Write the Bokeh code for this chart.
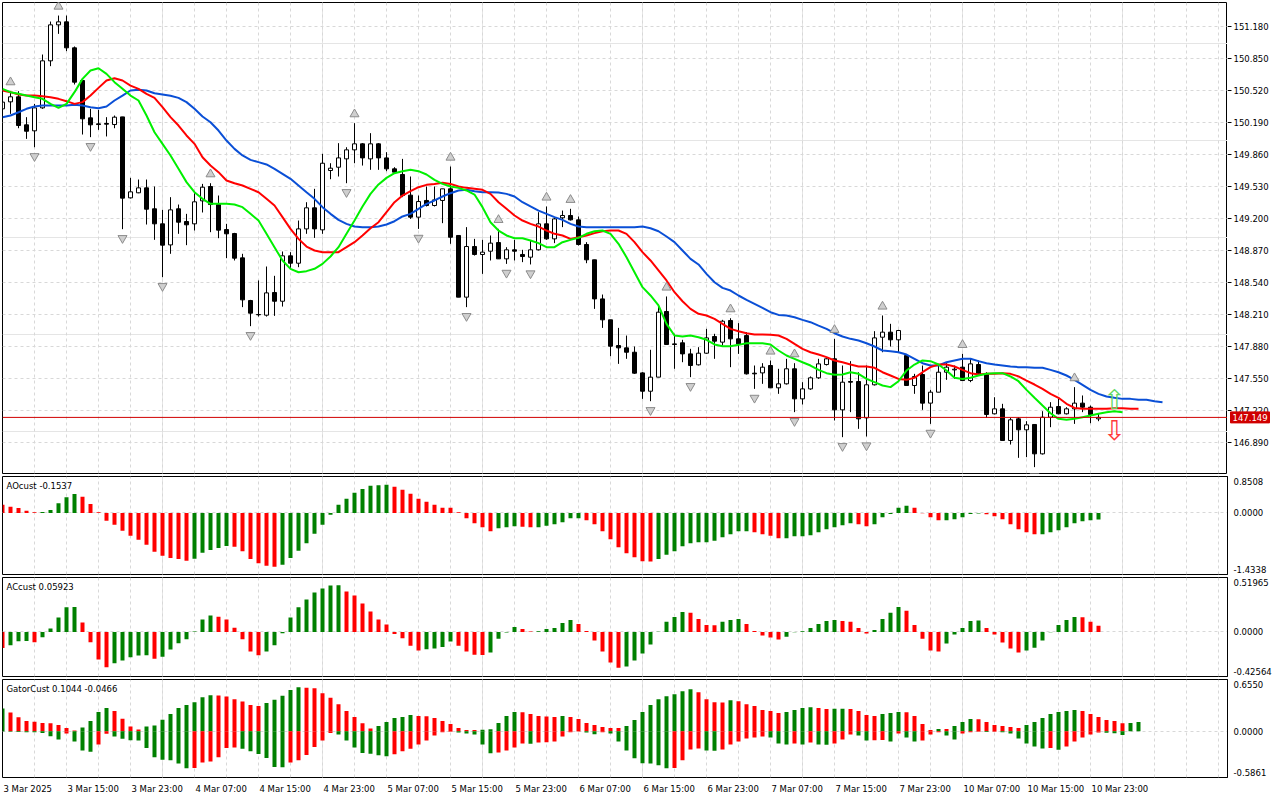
from bokeh.plotting import figure
from bokeh.layouts import column, row
from bokeh.models import (Range1d, FixedTicker, CustomJSTickFormatter,
                          Grid, Span, Label, ColumnDataSource)
from bokeh.embed import file_html
from bokeh.resources import INLINE
from bokeh.core.properties import value

# ---------------- data (H1 bars, index 0 = 3 Mar 2025 07:00) ----------------
opens = [150.331, 150.403, 150.455, 150.166, 150.104, 150.341, 150.826, 151.197, 151.228, 150.960,
         150.623, 150.238, 150.176, 150.180, 150.169, 150.248, 149.413, 149.465, 149.516, 149.300,
         149.145, 148.928, 149.300, 149.169, 149.145, 149.382, 149.530, 149.344, 149.086, 149.045,
         148.794, 148.354, 148.210, 148.203, 148.437, 148.347, 148.815, 148.739, 149.093, 149.310,
         149.083, 149.695, 149.729, 149.815, 149.908, 149.970, 149.815, 149.970, 149.825, 149.712,
         149.654, 149.441, 149.214, 149.386, 149.334, 149.386, 149.506, 149.025, 148.389, 148.911,
         148.829, 148.863, 148.952, 148.784, 148.877, 148.829, 148.801, 148.877, 149.145, 148.990,
         149.207, 149.231, 149.186, 148.932, 148.774, 148.371, 148.155, 147.890, 147.866, 147.821,
         147.608, 147.419, 147.564, 148.241, 147.907, 147.918, 147.804, 147.691, 147.811, 147.983,
         147.925, 148.148, 147.959, 147.993, 147.605, 147.608, 147.684, 147.454, 147.495, 147.650,
         147.340, 147.443, 147.557, 147.694, 147.753, 147.227, 147.519, 147.519, 147.144, 147.485,
         147.976, 148.028, 147.949, 147.787, 147.478, 147.591, 147.296, 147.409, 147.615, 147.639,
         147.667, 147.529, 147.694, 147.598, 147.186, 147.237, 146.911, 147.134, 147.021, 147.076,
         146.773, 147.151, 147.261, 147.186, 147.237, 147.296, 147.254, 147.134]
highs = [150.434, 150.513, 150.513, 150.245, 150.382, 150.891, 151.231, 151.293, 151.293, 150.974,
         150.630, 150.331, 150.321, 150.245, 150.262, 150.248, 149.619, 149.602, 149.602, 149.530,
         149.289, 149.420, 149.344, 149.248, 149.461, 149.557, 149.564, 149.437, 149.145, 149.052,
         148.836, 148.361, 148.561, 148.705, 148.609, 148.860, 148.853, 149.179, 149.368, 149.506,
         149.867, 149.770, 149.977, 149.935, 150.183, 149.977, 150.080, 149.977, 149.884, 149.729,
         149.815, 149.633, 149.437, 149.530, 149.530, 149.506, 149.736, 149.025, 149.111, 148.990,
         148.980, 149.025, 149.093, 148.904, 148.980, 148.877, 148.973, 149.265, 149.324, 149.214,
         149.282, 149.300, 149.221, 148.956, 148.774, 148.416, 148.155, 148.072, 147.993, 147.880,
         147.615, 147.846, 148.313, 148.396, 148.011, 147.949, 147.856, 147.873, 148.062, 148.011,
         148.155, 148.172, 148.121, 148.028, 147.684, 147.708, 147.736, 147.650, 147.753, 147.708,
         147.512, 147.571, 147.753, 147.763, 147.959, 147.684, 147.729, 147.615, 147.684, 148.038,
         148.200, 148.114, 148.052, 147.797, 147.598, 147.684, 147.433, 147.684, 147.718, 147.684,
         147.804, 147.753, 147.736, 147.615, 147.357, 147.289, 147.144, 147.151, 147.110, 147.076,
         147.213, 147.306, 147.340, 147.254, 147.461, 147.375, 147.271, 147.186]
lows = [150.296, 150.279, 150.131, 150.021, 149.935, 150.331, 150.771, 151.104, 150.926, 150.582,
        150.066, 150.039, 150.114, 150.046, 150.131, 149.090, 149.406, 149.461, 149.138, 148.980,
        148.595, 148.836, 149.042, 148.925, 149.076, 149.262, 149.059, 148.997, 148.791, 148.767,
        148.286, 148.090, 148.189, 148.189, 148.196, 148.292, 148.691, 148.698, 149.042, 149.000,
        149.042, 149.605, 149.633, 149.564, 149.770, 149.746, 149.702, 149.702, 149.688, 149.661,
        149.420, 149.196, 149.093, 149.324, 149.324, 149.152, 148.939, 148.389, 148.286, 148.818,
        148.629, 148.767, 148.784, 148.732, 148.767, 148.750, 148.726, 148.870, 148.980, 148.946,
        149.111, 149.179, 148.921, 148.739, 148.268, 148.072, 147.780, 147.701, 147.753, 147.598,
        147.340, 147.316, 147.564, 147.901, 147.650, 147.718, 147.564, 147.684, 147.804, 147.753,
        147.890, 147.667, 147.804, 147.591, 147.443, 147.495, 147.454, 147.392, 147.488, 147.203,
        147.282, 147.433, 147.546, 147.684, 147.117, 146.945, 147.203, 147.031, 146.952, 147.478,
        147.821, 147.880, 147.821, 147.478, 147.392, 147.227, 147.082, 147.409, 147.536, 147.546,
        147.529, 147.512, 147.581, 147.144, 147.179, 146.911, 146.869, 146.732, 146.739, 146.636,
        146.766, 147.048, 147.179, 147.179, 147.082, 147.203, 147.089, 147.110]
closes = [150.400, 150.455, 150.159, 150.100, 150.341, 150.826, 151.197, 151.228, 150.960, 150.606,
          150.228, 150.166, 150.169, 150.173, 150.245, 149.410, 149.475, 149.516, 149.296, 149.145,
          148.925, 149.289, 149.162, 149.135, 149.372, 149.523, 149.344, 149.080, 149.042, 148.791,
          148.361, 148.224, 148.207, 148.433, 148.347, 148.815, 148.739, 149.093, 149.310, 149.093,
          149.770, 149.719, 149.825, 149.908, 149.970, 149.825, 149.970, 149.825, 149.712, 149.678,
          149.437, 149.214, 149.375, 149.334, 149.392, 149.506, 149.007, 148.389, 148.911, 148.829,
          148.853, 148.946, 148.784, 148.877, 148.863, 148.808, 148.877, 149.145, 148.990, 149.196,
          149.231, 149.186, 148.932, 148.774, 148.371, 148.155, 147.883, 147.866, 147.821, 147.605,
          147.419, 147.564, 148.234, 147.901, 147.901, 147.804, 147.684, 147.811, 147.969, 147.935,
          148.141, 147.959, 147.907, 147.598, 147.598, 147.667, 147.454, 147.495, 147.650, 147.340,
          147.443, 147.557, 147.701, 147.753, 147.227, 147.512, 147.512, 147.134, 147.485, 147.969,
          148.028, 147.949, 148.045, 147.478, 147.571, 147.296, 147.409, 147.615, 147.667, 147.646,
          147.529, 147.701, 147.598, 147.179, 147.237, 146.911, 147.124, 147.021, 147.072, 146.773,
          147.151, 147.254, 147.186, 147.237, 147.296, 147.254, 147.179, 147.149]

# Alligator lines (already shifted forward: lips +3, teeth +5, jaw +8)
lips = [150.537, 150.503, 150.486, 150.468, 150.451, 150.434, 150.382, 150.341, 150.382, 150.503,
        150.640, 150.726, 150.750, 150.692, 150.606, 150.537, 150.468, 150.417, 150.262, 150.090,
        149.970, 149.850, 149.712, 149.575, 149.471, 149.403, 149.351, 149.351, 149.351, 149.344,
        149.317, 149.248, 149.179, 149.042, 148.904, 148.767, 148.681, 148.646, 148.657, 148.681,
        148.732, 148.808, 148.904, 149.042, 149.179, 149.324, 149.454, 149.551, 149.619, 149.667,
        149.688, 149.702, 149.688, 149.654, 149.599, 149.557, 149.530, 149.516, 149.489, 149.447,
        149.317, 149.162, 149.076, 149.025, 148.997, 148.997, 148.973, 148.946, 148.904, 148.904,
        148.956, 148.980, 149.000, 149.042, 149.069, 149.076, 149.042, 148.939, 148.801, 148.646,
        148.492, 148.406, 148.303, 148.114, 147.993, 147.983, 147.993, 147.976, 147.949, 147.901,
        147.883, 147.883, 147.897, 147.914, 147.914, 147.914, 147.901, 147.839, 147.787, 147.753,
        147.718, 147.684, 147.639, 147.605, 147.588, 147.591, 147.615, 147.598, 147.546, 147.512,
        147.478, 147.461, 147.522, 147.632, 147.694, 147.736, 147.729, 147.694, 147.632, 147.557,
        147.546, 147.557, 147.581, 147.598, 147.605, 147.605, 147.571, 147.522, 147.433, 147.351,
        147.271, 147.192, 147.134, 147.124, 147.134, 147.151, 147.168, 147.186, 147.203, 147.213,
        147.203]
teeth = [150.520, 150.503, 150.479, 150.468, 150.468, 150.461, 150.451, 150.434, 150.410, 150.382,
         150.400, 150.468, 150.547, 150.623, 150.647, 150.623, 150.571, 150.537, 150.486, 150.444,
         150.348, 150.245, 150.159, 150.056, 149.970, 149.832, 149.746, 149.678, 149.592, 149.564,
         149.540, 149.506, 149.471, 149.403, 149.334, 149.214, 149.093, 148.990, 148.911, 148.870,
         148.853, 148.853, 148.853, 148.904, 148.956, 149.025, 149.100, 149.162, 149.265, 149.368,
         149.437, 149.482, 149.523, 149.547, 149.557, 149.568, 149.557, 149.530, 149.516, 149.506,
         149.496, 149.454, 149.368, 149.300, 149.231, 149.179, 149.145, 149.117, 149.076, 149.042,
         149.025, 148.990, 149.007, 149.025, 149.049, 149.069, 149.076, 149.076, 149.042, 148.956,
         148.853, 148.767, 148.664, 148.561, 148.440, 148.347, 148.268, 148.217, 148.200, 148.165,
         148.114, 148.062, 148.038, 148.017, 148.004, 148.004, 148.000, 147.993, 147.959, 147.907,
         147.856, 147.821, 147.797, 147.770, 147.736, 147.718, 147.694, 147.674, 147.674, 147.660,
         147.615, 147.581, 147.546, 147.536, 147.557, 147.615, 147.667, 147.694, 147.694, 147.674,
         147.639, 147.605, 147.591, 147.598, 147.598, 147.605, 147.598, 147.571, 147.529, 147.488,
         147.443, 147.392, 147.351, 147.289, 147.247, 147.237, 147.237, 147.237, 147.237, 147.244,
         147.244, 147.237, 147.237]
jaw = [150.245, 150.262, 150.296, 150.331, 150.355, 150.365, 150.365, 150.365, 150.365, 150.372,
       150.365, 150.348, 150.338, 150.355, 150.417, 150.468, 150.520, 150.527, 150.520, 150.492,
       150.479, 150.465, 150.444, 150.400, 150.331, 150.252, 150.193, 150.107, 150.004, 149.918,
       149.850, 149.805, 149.781, 149.757, 149.712, 149.661, 149.609, 149.540, 149.471, 149.403,
       149.317, 149.248, 149.186, 149.145, 149.117, 149.111, 149.111, 149.117, 149.138, 149.172,
       149.221, 149.248, 149.300, 149.351, 149.386, 149.427, 149.461, 149.489, 149.496, 149.482,
       149.471, 149.471, 149.468, 149.454, 149.427, 149.368, 149.324, 149.282, 149.248, 149.214,
       149.186, 149.145, 149.117, 149.111, 149.111, 149.111, 149.111, 149.111, 149.111, 149.111,
       149.117, 149.100, 149.069, 149.014, 148.956, 148.870, 148.784, 148.726, 148.629, 148.543,
       148.485, 148.457, 148.406, 148.361, 148.320, 148.279, 148.234, 148.206, 148.200, 148.182,
       148.155, 148.131, 148.096, 148.062, 148.017, 147.983, 147.959, 147.942, 147.914, 147.880,
       147.839, 147.832, 147.821, 147.797, 147.753, 147.708, 147.684, 147.684, 147.718, 147.736,
       147.753, 147.753, 147.729, 147.708, 147.694, 147.684, 147.674, 147.667, 147.667, 147.660,
       147.660, 147.639, 147.615, 147.581, 147.536, 147.485, 147.433, 147.392, 147.364, 147.351,
       147.340, 147.340, 147.330, 147.330, 147.316, 147.306]

fractal_up_bars = [1, 7, 26, 44, 56, 62, 68, 71, 83, 91, 96, 99, 104, 110, 120, 134]
fractal_down_bars = [4, 11, 15, 20, 31, 43, 52, 58, 63, 66, 81, 86, 94, 99, 105, 108, 116, 129]

signal_bar = 139
signal_up_price = 147.330
signal_down_price = 147.018

ao = [0.194, 0.148, 0.117, 0.054, 0.016, 0.023, 0.070, 0.225, 0.365, 0.443,
      0.381, 0.210, 0.016, -0.179, -0.272, -0.412, -0.528, -0.622, -0.738, -0.901,
      -0.995, -1.049, -1.072, -1.111, -1.065, -0.925, -0.863, -0.816, -0.769, -0.785,
      -0.894, -1.072, -1.173, -1.228, -1.251, -1.204, -1.049, -0.878, -0.707, -0.482,
      -0.272, -0.039, 0.194, 0.334, 0.474, 0.559, 0.637, 0.645, 0.661, 0.614,
      0.544, 0.451, 0.334, 0.264, 0.194, 0.124, 0.120, 0.016, -0.124, -0.241,
      -0.334, -0.427, -0.357, -0.334, -0.311, -0.319, -0.334, -0.330, -0.295, -0.264,
      -0.218, -0.124, -0.120, -0.171, -0.264, -0.427, -0.614, -0.800, -0.940, -1.034,
      -1.127, -1.130, -1.072, -0.971, -0.894, -0.777, -0.707, -0.684, -0.680, -0.645,
      -0.567, -0.497, -0.427, -0.424, -0.451, -0.497, -0.528, -0.591, -0.587, -0.544,
      -0.540, -0.521, -0.451, -0.381, -0.334, -0.288, -0.241, -0.264, -0.311, -0.264,
      -0.101, -0.023, 0.124, 0.171, 0.124, -0.004, -0.101, -0.171, -0.167, -0.148,
      -0.101, -0.023, -0.010, -0.031, -0.078, -0.148, -0.264, -0.381, -0.451, -0.497,
      -0.493, -0.451, -0.404, -0.334, -0.241, -0.195, -0.170, -0.1537]
ac = [-0.153, -0.127, -0.089, -0.086, -0.099, -0.051, 0.032, 0.137, 0.236, 0.239,
      0.089, -0.099, -0.264, -0.338, -0.299, -0.274, -0.242, -0.226, -0.223, -0.255,
      -0.236, -0.169, -0.108, -0.070, 0.003, 0.118, 0.156, 0.146, 0.118, 0.041,
      -0.070, -0.188, -0.223, -0.188, -0.127, -0.013, 0.137, 0.236, 0.309, 0.376,
      0.414, 0.443, 0.446, 0.385, 0.347, 0.271, 0.194, 0.118, 0.070, -0.019,
      -0.061, -0.131, -0.178, -0.166, -0.159, -0.143, -0.092, -0.131, -0.188, -0.217,
      -0.220, -0.197, -0.064, -0.006, 0.048, 0.029, 0.003, 0.006, 0.029, 0.038,
      0.086, 0.115, 0.076, 0.010, -0.083, -0.188, -0.293, -0.341, -0.331, -0.274,
      -0.207, -0.121, 0.002, 0.096, 0.143, 0.191, 0.182, 0.124, 0.067, 0.064,
      0.096, 0.115, 0.124, 0.076, 0.010, -0.035, -0.054, -0.073, -0.045, -0.003,
      0.006, 0.038, 0.076, 0.105, 0.115, 0.105, 0.096, 0.038, -0.016, 0.019,
      0.124, 0.182, 0.239, 0.201, 0.067, -0.064, -0.178, -0.188, -0.111, -0.025,
      0.038, 0.105, 0.108, 0.038, -0.025, -0.102, -0.159, -0.197, -0.178, -0.150,
      -0.083, -0.002, 0.067, 0.115, 0.143, 0.140, 0.096, 0.05923]
gator_up = [0.289, 0.238, 0.176, 0.130, 0.121, 0.105, 0.100, 0.079, 0.042, 0.008,
            0.046, 0.130, 0.243, 0.293, 0.255, 0.159, 0.059, 0.021, 0.059, 0.071,
            0.146, 0.218, 0.293, 0.331, 0.368, 0.431, 0.456, 0.452, 0.439, 0.406,
            0.377, 0.331, 0.318, 0.356, 0.397, 0.448, 0.523, 0.556, 0.552, 0.544,
            0.481, 0.423, 0.343, 0.255, 0.180, 0.100, 0.033, 0.067, 0.117, 0.167,
            0.180, 0.205, 0.192, 0.190, 0.167, 0.130, 0.092, 0.042, 0.017, 0.015,
            0.020, 0.025, 0.105, 0.192, 0.243, 0.240, 0.218, 0.192, 0.188, 0.180,
            0.192, 0.180, 0.155, 0.105, 0.079, 0.054, 0.042, 0.040, 0.067, 0.142,
            0.243, 0.331, 0.406, 0.444, 0.469, 0.506, 0.531, 0.494, 0.406, 0.368,
            0.365, 0.393, 0.381, 0.343, 0.318, 0.268, 0.255, 0.230, 0.243, 0.268,
            0.293, 0.305, 0.293, 0.280, 0.283, 0.286, 0.280, 0.255, 0.205, 0.192,
            0.218, 0.230, 0.243, 0.240, 0.192, 0.092, 0.017, 0.029, 0.027, 0.067,
            0.117, 0.155, 0.152, 0.117, 0.079, 0.067, 0.054, 0.042, 0.079, 0.117,
            0.167, 0.218, 0.243, 0.255, 0.268, 0.255, 0.218, 0.180, 0.142, 0.130,
            0.100, 0.1044, 0.117]
gator_down = [-0.004, -0.008, -0.010, -0.012, -0.013, -0.021, -0.063, -0.105, -0.028, -0.130,
              -0.243, -0.259, -0.167, -0.033, -0.067, -0.096, -0.113, -0.117, -0.213, -0.331,
              -0.360, -0.368, -0.410, -0.469, -0.465, -0.397, -0.385, -0.331, -0.213, -0.205,
              -0.222, -0.255, -0.289, -0.339, -0.452, -0.456, -0.397, -0.368, -0.301, -0.201,
              -0.117, -0.021, -0.042, -0.117, -0.205, -0.276, -0.285, -0.305, -0.318, -0.293,
              -0.255, -0.222, -0.167, -0.117, -0.054, -0.013, -0.008, -0.017, -0.029, -0.042,
              -0.167, -0.280, -0.268, -0.243, -0.205, -0.155, -0.158, -0.142, -0.140, -0.130,
              -0.067, -0.013, -0.004, -0.017, -0.038, -0.013, -0.029, -0.130, -0.243, -0.343,
              -0.406, -0.410, -0.431, -0.469, -0.465, -0.368, -0.230, -0.218, -0.243, -0.246,
              -0.230, -0.167, -0.130, -0.092, -0.079, -0.067, -0.079, -0.155, -0.167, -0.155,
              -0.167, -0.142, -0.167, -0.170, -0.155, -0.105, -0.042, -0.054, -0.117, -0.115,
              -0.110, -0.130, -0.029, -0.080, -0.130, -0.117, -0.042, -0.013, -0.054, -0.105,
              -0.029, -0.013, -0.008, -0.010, -0.008, -0.013, -0.029, -0.092, -0.155, -0.192,
              -0.218, -0.214, -0.234, -0.192, -0.130, -0.079, -0.042, -0.017, -0.020, -0.025,
              -0.0466]

price_ticks = [146.890, 147.220, 147.550, 147.880, 148.210, 148.540, 148.870,
               149.200, 149.530, 149.860, 150.190, 150.520, 150.850, 151.180]
price_range = (146.5704, 151.4275)
ao_range = (-1.4338, 0.8508)
ac_range = (-0.42564, 0.51965)
gator_range = (-0.5861, 0.6550)
ao_labels = ["0.8508", "0.0000", "-1.4338"]
ac_labels = ["0.51965", "0.0000", "-0.42564"]
gator_labels = ["0.6550", "0.0000", "-0.5861"]
ao_title = "AOcust -0.1537"
ac_title = "ACcust 0.05923"
gator_title = "GatorCust 0.1044 -0.0466"

time_label_bars = [0, 8, 16, 24, 32, 40, 48, 56, 64, 72, 80, 88, 96, 104, 112, 120, 128, 136]
time_labels = ["3 Mar 2025", "3 Mar 15:00", "3 Mar 23:00", "4 Mar 07:00", "4 Mar 15:00",
               "4 Mar 23:00", "5 Mar 07:00", "5 Mar 15:00", "5 Mar 23:00", "6 Mar 07:00",
               "6 Mar 15:00", "6 Mar 23:00", "7 Mar 07:00", "7 Mar 15:00", "7 Mar 23:00",
               "10 Mar 07:00", "10 Mar 15:00", "10 Mar 23:00"]

# ---------------- styling ----------------
FONT = "DejaVu Sans"
FS = "8.5px"
GRID_C = "#D8D8D8"
GREEN = "#008000"
RED = "#FF0000"
PRICE_RED = "#D00000"
FRAME_W = 1225
AXIS_W = 53
X_END = FRAME_W / 8.0       # 8 px per bar
xr = Range1d(0, X_END)
vgrid_ticks = list(range(0, int(X_END) + 1, 4))


def base_fig(frame_h, top_b, bot_b, yr, right_axis=True, border_right=AXIS_W):
    p = figure(frame_width=FRAME_W, frame_height=frame_h, x_range=xr,
               y_range=yr, output_backend="svg",
               toolbar_location=None, x_axis_location=None,
               y_axis_location="right" if right_axis else None,
               min_border_left=2, min_border_right=border_right, min_border_top=top_b,
               min_border_bottom=bot_b, background_fill_color="white",
               border_fill_color="white")
    p.outline_line_color = "black"
    p.outline_line_width = 1
    p.add_layout(Grid(dimension=0, ticker=FixedTicker(ticks=vgrid_ticks),
                      grid_line_color=GRID_C, grid_line_dash="3 3"))
    return p


def px_value(yr, frame_h):
    return (yr[1] - yr[0]) / frame_h


# ---------------- main price panel ----------------
MAIN_H = 471
main_yr = Range1d(price_range[0], price_range[1])
main = base_fig(MAIN_H, 2, 1, main_yr, right_axis=False, border_right=0)
main.add_layout(Grid(dimension=1, ticker=FixedTicker(ticks=price_ticks),
                     grid_line_color=GRID_C, grid_line_dash="3 3"))

n = len(closes)
idx = list(range(n))
csrc = ColumnDataSource(dict(
    x=idx, high=highs, low=lows,
    top=[max(o, c) for o, c in zip(opens, closes)],
    bottom=[min(o, c) for o, c in zip(opens, closes)],
    fill=["white" if c >= o else "black" for o, c in zip(opens, closes)]))
main.segment(x0="x", y0="high", x1="x", y1="low", source=csrc, line_color="black", line_width=1)
main.vbar(x="x", top="top", bottom="bottom", width=0.5, source=csrc,
          fill_color="fill", line_color="black", line_width=1)

main.line(list(range(len(jaw))), jaw, line_color="#0A4FD6", line_width=2)
main.line(list(range(len(teeth))), teeth, line_color="#FF0000", line_width=2)
main.line(list(range(len(lips))), lips, line_color="#00F000", line_width=2)

pv = px_value(price_range, MAIN_H)
main.scatter(fractal_up_bars, [highs[b] + 9 * pv for b in fractal_up_bars],
             marker="triangle", size=9, fill_color="#CFCFCF", line_color="#8C8C8C")
main.scatter(fractal_down_bars, [lows[b] - 9 * pv for b in fractal_down_bars],
             marker="inverted_triangle", size=9, fill_color="#CFCFCF", line_color="#8C8C8C")

main.text([signal_bar], [signal_up_price], text=["\u21e7"], text_align="center",
          text_baseline="middle", text_color="#62D862", text_font=value(FONT),
          text_font_size="27px")
main.text([signal_bar], [signal_down_price], text=["\u21e9"], text_align="center",
          text_baseline="middle", text_color="#FF3A3A", text_font=value(FONT),
          text_font_size="27px")

last_price = closes[-1]
main.add_layout(Span(location=last_price, dimension="width", line_color=PRICE_RED, line_width=1))

# price scale drawn in its own strip to the right of the main frame
side = figure(frame_width=AXIS_W, frame_height=MAIN_H, x_range=Range1d(0, AXIS_W),
              y_range=main_yr, output_backend="svg", toolbar_location=None,
              x_axis_location=None, y_axis_location=None, min_border_left=0,
              min_border_right=0, min_border_top=2, min_border_bottom=1,
              background_fill_color="white", border_fill_color="white")
side.outline_line_color = None
side.grid.visible = False
side.segment(x0=[0] * len(price_ticks), y0=price_ticks, x1=[4] * len(price_ticks),
             y1=price_ticks, line_color="black", line_width=1)
side.text(x=[6] * len(price_ticks), y=price_ticks, text=[f"{t:.3f}" for t in price_ticks],
          text_align="left", text_baseline="middle", text_font=value(FONT),
          text_font_size=FS, text_color="black")
side.quad(left=[3], right=[42], bottom=[last_price - 5.5 * pv], top=[last_price + 5.5 * pv],
          fill_color=PRICE_RED, line_color=PRICE_RED)
side.text(x=[5], y=[last_price], text=[f"{last_price:.3f}"], text_align="left",
          text_baseline="middle", text_font=value(FONT), text_font_size=FS,
          text_color="white")


# ---------------- indicator panels ----------------
def sub_panel(frame_h, yr, labels, title):
    p = base_fig(frame_h, 2, 1, Range1d(yr[0], yr[1]))
    ax = p.yaxis[0]
    ax.axis_line_color = "black"
    ax.major_tick_line_color = "black"
    ax.minor_tick_line_color = None
    ax.major_tick_in = 0
    ax.major_label_text_font = FONT
    ax.major_label_text_font_size = FS
    ax.major_label_text_color = "black"
    pvv = px_value(yr, frame_h)
    ticks = [yr[1] - 5 * pvv, 0.0, yr[0] + 5 * pvv]
    ax.ticker = FixedTicker(ticks=ticks)
    ax.formatter = CustomJSTickFormatter(args=dict(vals=ticks, labs=labels), code="""
        let best = -1, bd = 1e9;
        for (let i = 0; i < vals.length; i++) {
            const d = Math.abs(vals[i] - tick);
            if (d < bd) { bd = d; best = i; }
        }
        return (best >= 0 && bd < 1e-6) ? labs[best] : "";
    """)
    ax.major_tick_out = 0
    ax.major_label_standoff = 6
    p.ygrid.ticker = FixedTicker(ticks=[0.0])
    p.ygrid.grid_line_color = GRID_C
    p.ygrid.grid_line_dash = "3 3"
    p.add_layout(Label(x=0, y=yr[1], x_offset=4, y_offset=-4, text=title,
                       text_baseline="top", text_align="left", text_font=FONT,
                       text_font_size=FS, text_color="black"))
    return p


def trend_colors(vals, first, use_abs=False):
    cols = [first]
    for i in range(1, len(vals)):
        a = abs(vals[i]) if use_abs else vals[i]
        b = abs(vals[i - 1]) if use_abs else vals[i - 1]
        cols.append(GREEN if a > b else RED)
    return cols


ao_p = sub_panel(98, ao_range, ao_labels, ao_title)
ao_p.vbar(x=list(range(len(ao))), top=ao, bottom=0, width=0.5,
          fill_color=trend_colors(ao, RED), line_color=None)

ac_p = sub_panel(99, ac_range, ac_labels, ac_title)
ac_p.vbar(x=list(range(len(ac))), top=ac, bottom=0, width=0.5,
          fill_color=trend_colors(ac, RED), line_color=None)

gt_p = sub_panel(98, gator_range, gator_labels, gator_title)
gt_p.vbar(x=list(range(len(gator_up))), top=gator_up, bottom=0, width=0.5,
          fill_color=trend_colors(gator_up, GREEN), line_color=None)
gt_p.vbar(x=list(range(len(gator_down))), top=gator_down, bottom=0, width=0.5,
          fill_color=trend_colors(gator_down, GREEN, use_abs=True), line_color=None)

# ---------------- time labels row ----------------
xf = figure(frame_width=FRAME_W, frame_height=20, x_range=xr, y_range=Range1d(0, 1),
            output_backend="svg", toolbar_location=None, x_axis_location=None,
            y_axis_location=None, min_border_left=2, min_border_right=AXIS_W,
            min_border_top=0, min_border_bottom=0, background_fill_color="white",
            border_fill_color="white")
xf.outline_line_color = None
xf.grid.visible = False
xf.text(x=time_label_bars, y=[0.5] * len(time_label_bars), text=time_labels,
        text_align="left", text_baseline="middle", x_offset=1,
        text_font=value(FONT), text_font_size=FS, text_color="black")

layout = column(row(main, side, spacing=0), ao_p, ac_p, gt_p, xf, spacing=0)

html = file_html(layout, INLINE, title="Chart")
html = html.replace("<head>", "<head>\n<style>html,body{margin:0;padding:0;background:#fff;overflow:hidden;}</style>", 1)
with open("out.html", "w") as f:
    f.write(html)
